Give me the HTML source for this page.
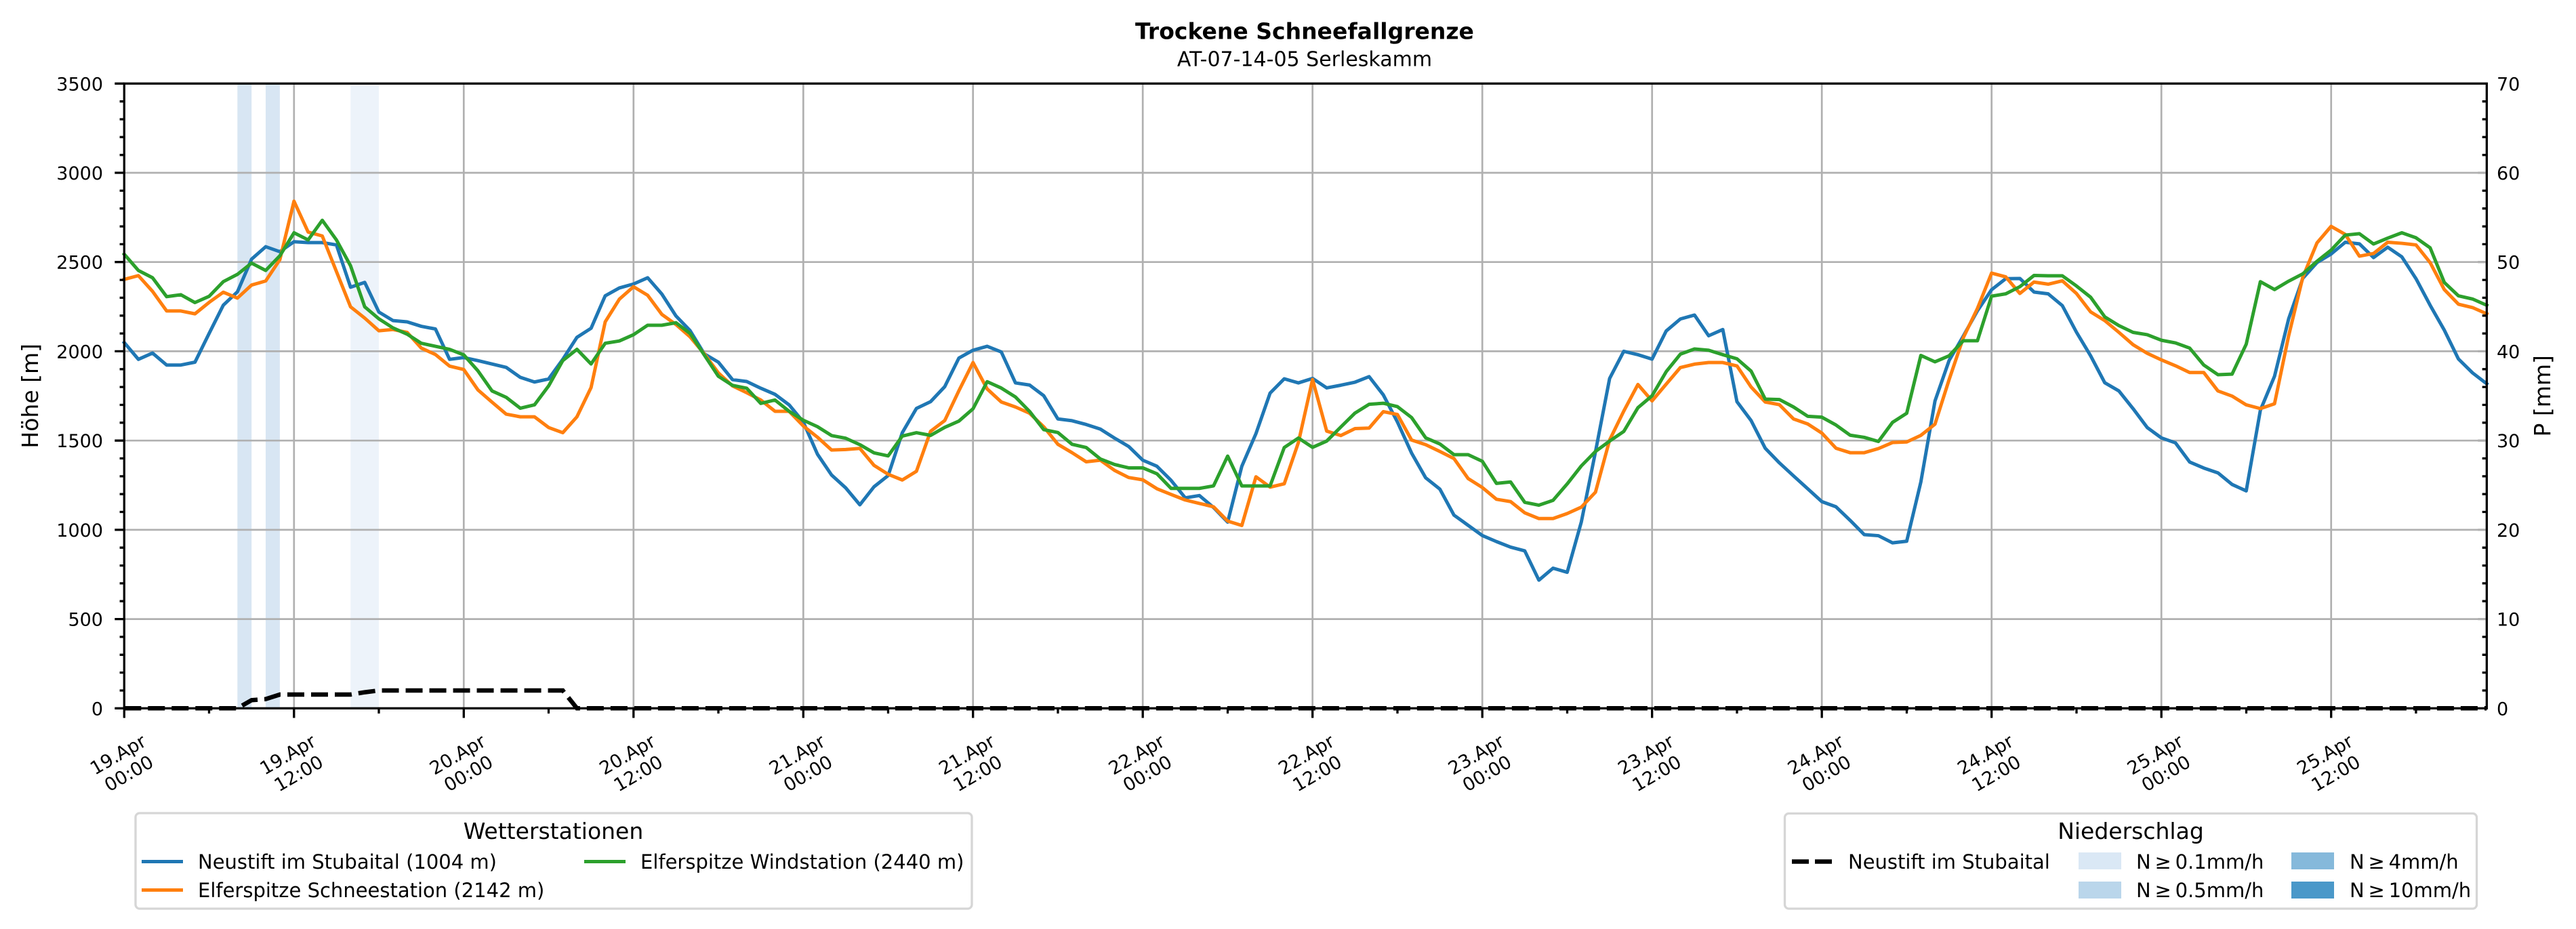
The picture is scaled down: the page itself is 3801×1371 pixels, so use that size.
<!DOCTYPE html>
<html>
<head>
<meta charset="utf-8">
<style>
html,body{margin:0;padding:0;background:#fff;}
svg{display:block;}
text{font-family:"DejaVu Sans","Liberation Sans",sans-serif;fill:#000;}
</style>
</head>
<body>
<svg width="3801" height="1371" viewBox="0 0 3801 1371" xmlns="http://www.w3.org/2000/svg">
<rect x="0" y="0" width="3801" height="1371" fill="#fff"/>

<!-- Title -->
<text x="1925" y="57.7" font-size="33" font-weight="bold" text-anchor="middle">Trockene Schneefallgrenze</text>
<text x="1925" y="97.7" font-size="30" text-anchor="middle">AT-07-14-05 Serleskamm</text>

<!-- precipitation spans -->
<rect x="350.3" y="123.3" width="20.9" height="922" fill="#d8e6f3"/>
<rect x="392.0" y="123.3" width="20.9" height="922" fill="#d8e6f3"/>
<rect x="517.3" y="123.3" width="41.7" height="922" fill="#edf3fa"/>

<!-- grid -->
<g stroke="#b0b0b0" stroke-width="2.7" fill="none">
<path d="M183.3 913.6H3669.3M183.3 781.9H3669.3M183.3 650.2H3669.3M183.3 518.4H3669.3M183.3 386.7H3669.3M183.3 255.0H3669.3"/>
<path d="M433.8 123.3V1045.3M684.3 123.3V1045.3M934.8 123.3V1045.3M1185.3 123.3V1045.3M1435.7 123.3V1045.3M1686.2 123.3V1045.3M1936.7 123.3V1045.3M2187.2 123.3V1045.3M2437.7 123.3V1045.3M2688.2 123.3V1045.3M2938.7 123.3V1045.3M3189.2 123.3V1045.3M3439.7 123.3V1045.3"/>
</g>

<!-- data lines -->
<g transform="translate(183.3,1045.3) scale(20.874,-0.26343)" fill="none" stroke-width="5" stroke-linejoin="round" stroke-linecap="square">
<polyline vector-effect="non-scaling-stroke" stroke="#1f77b4" points="0,2049 1,1955 2,1990 3,1923 4,1923 5,1939 6,2100 7,2258 8,2333 9,2516 10,2586 11,2558 12,2614 13,2609 14,2609 15,2596 16,2359 17,2386 18,2220 19,2172 20,2165 21,2140 22,2125 23,1955 24,1965 25,1948 26,1929 27,1910 28,1854 29,1828 30,1845 31,1955 32,2078 33,2129 34,2311 35,2355 36,2377 37,2412 38,2321 39,2198 40,2116 41,1986 42,1939 43,1841 44,1831 45,1793 46,1759 47,1700 48,1604 49,1424 50,1307 51,1235 52,1140 53,1241 54,1304 55,1544 56,1680 57,1718 58,1802 59,1962 60,2006 61,2028 62,1996 63,1823 64,1811 65,1751 66,1621 67,1611 68,1590 69,1564 70,1514 71,1467 72,1390 73,1356 74,1277 75,1179 76,1192 77,1125 78,1043 79,1356 80,1539 81,1766 82,1846 83,1823 84,1848 85,1795 86,1810 87,1827 88,1858 89,1756 90,1604 91,1430 92,1291 93,1228 94,1082 95,1025 96,968 97,934 98,903 99,882 100,718 101,785 102,762 103,1044 104,1437 105,1848 106,2000 107,1981 108,1956 109,2114 110,2181 111,2203 112,2087 113,2122 114,1718 115,1612 116,1457 117,1375 118,1302 119,1230 120,1158 121,1129 122,1053 123,973 124,967 125,927 126,936 127,1268 128,1722 129,1949 130,2085 131,2227 132,2345 133,2407 134,2408 135,2332 136,2322 137,2256 138,2107 139,1975 140,1824 141,1778 142,1679 143,1573 144,1515 145,1487 146,1380 147,1346 148,1319 149,1254 150,1218 151,1670 152,1860 153,2182 154,2409 155,2497 156,2545 157,2611 158,2602 159,2525 160,2583 161,2529 162,2407 163,2258 164,2119 165,1957 166,1879 167,1818"/>
<polyline vector-effect="non-scaling-stroke" stroke="#ff7f0e" points="0,2403 1,2424 2,2336 3,2226 4,2226 5,2210 6,2274 7,2331 8,2298 9,2371 10,2394 11,2513 12,2841 13,2668 14,2646 15,2447 16,2249 17,2186 18,2115 19,2122 20,2106 21,2018 22,1982 23,1917 24,1898 25,1784 26,1715 27,1648 28,1633 29,1633 30,1573 31,1544 32,1633 33,1797 34,2165 35,2292 36,2362 37,2314 38,2207 39,2150 40,2081 41,1986 42,1879 43,1806 44,1768 45,1727 46,1664 47,1664 48,1582 49,1519 50,1447 51,1450 52,1456 53,1361 54,1311 55,1279 56,1328 57,1552 58,1612 59,1779 60,1937 61,1789 62,1716 63,1688 64,1653 65,1577 66,1479 67,1432 68,1381 69,1390 70,1333 71,1293 72,1280 73,1230 74,1198 75,1167 76,1148 77,1129 78,1049 79,1024 80,1297 81,1239 82,1258 83,1489 84,1842 85,1553 86,1528 87,1567 88,1570 89,1662 90,1646 91,1503 92,1477 93,1439 94,1399 95,1287 96,1237 97,1171 98,1158 99,1095 100,1063 101,1063 102,1091 103,1127 104,1211 105,1503 106,1665 107,1814 108,1722 109,1816 110,1909 111,1928 112,1937 113,1937 114,1918 115,1800 116,1716 117,1701 118,1621 119,1593 120,1542 121,1457 122,1432 123,1432 124,1455 125,1489 126,1492 127,1529 128,1592 129,1842 130,2076 131,2240 132,2438 133,2417 134,2324 135,2388 136,2376 137,2395 138,2324 139,2221 140,2172 141,2106 142,2037 143,1989 144,1952 145,1919 146,1881 147,1881 148,1778 149,1749 150,1700 151,1679 152,1706 153,2087 154,2415 155,2607 156,2700 157,2655 158,2533 159,2548 160,2611 161,2605 162,2596 163,2497 164,2346 165,2264 166,2245 167,2210"/>
<polyline vector-effect="non-scaling-stroke" stroke="#2ca02c" points="0,2544 1,2453 2,2412 3,2306 4,2317 5,2273 6,2308 7,2390 8,2431 9,2494 10,2453 11,2535 12,2664 13,2624 14,2734 15,2624 16,2479 17,2249 18,2182 19,2131 20,2096 21,2045 22,2028 23,2011 24,1980 25,1891 26,1778 27,1742 28,1681 29,1700 30,1806 31,1948 32,2011 33,1929 34,2045 35,2058 36,2093 37,2146 38,2146 39,2160 40,2100 41,1980 42,1860 43,1809 44,1793 45,1708 46,1727 47,1664 48,1614 49,1578 50,1528 51,1513 52,1477 53,1431 54,1414 55,1525 56,1544 57,1529 58,1574 59,1609 60,1678 61,1830 62,1794 63,1744 64,1663 65,1561 66,1545 67,1479 68,1461 69,1397 70,1366 71,1347 72,1347 73,1314 74,1232 75,1232 76,1232 77,1246 78,1413 79,1246 80,1246 81,1246 82,1461 83,1514 84,1462 85,1497 86,1576 87,1654 88,1703 89,1709 90,1690 91,1629 92,1515 93,1481 94,1421 95,1421 96,1384 97,1260 98,1268 99,1154 100,1138 101,1165 102,1257 103,1358 104,1439 105,1497 106,1551 107,1684 108,1751 109,1886 110,1984 111,2013 112,2006 113,1981 114,1958 115,1889 116,1732 117,1730 118,1688 119,1636 120,1631 121,1587 122,1530 123,1518 124,1495 125,1602 126,1653 127,1977 128,1941 129,1975 130,2059 131,2059 132,2309 133,2322 134,2362 135,2425 136,2423 137,2423 138,2366 139,2303 140,2193 141,2144 142,2106 143,2093 144,2062 145,2047 146,2018 147,1923 148,1869 149,1872 150,2040 151,2390 152,2346 153,2393 154,2434 155,2504 156,2567 157,2651 158,2659 159,2601 160,2634 161,2664 162,2636 163,2580 164,2386 165,2311 166,2293 167,2258"/>
</g>

<!-- spines -->
<rect x="183.3" y="123.3" width="3486" height="922" fill="none" stroke="#000" stroke-width="3.3"/>

<!-- precipitation dashed line (right axis) -->
<polyline fill="none" stroke="#000" stroke-width="6.5" stroke-dasharray="25,10" points="183.3,1045.3 350.3,1045.3 371.2,1033.3 392.0,1031.7 412.9,1025.0 517.3,1025.0 538.2,1021.6 559.0,1019.0 830.4,1019.0 851.3,1045.3 3669.3,1045.3"/>

<!-- left ticks -->
<g stroke="#000" stroke-width="3.3" fill="none">
<path d="M169.3 1045.3H183.3M169.3 913.6H183.3M169.3 781.9H183.3M169.3 650.2H183.3M169.3 518.4H183.3M169.3 386.7H183.3M169.3 255.0H183.3M169.3 123.3H183.3"/>
<path d="M176.6 1019.0H183.3M176.6 992.6H183.3M176.6 966.3H183.3M176.6 939.9H183.3M176.6 887.2H183.3M176.6 860.9H183.3M176.6 834.6H183.3M176.6 808.2H183.3M176.6 755.5H183.3M176.6 729.2H183.3M176.6 702.9H183.3M176.6 676.5H183.3M176.6 623.8H183.3M176.6 597.5H183.3M176.6 571.1H183.3M176.6 544.8H183.3M176.6 492.1H183.3M176.6 465.8H183.3M176.6 439.4H183.3M176.6 413.1H183.3M176.6 360.4H183.3M176.6 334.1H183.3M176.6 307.7H183.3M176.6 281.4H183.3M176.6 228.7H183.3M176.6 202.3H183.3M176.6 176.0H183.3M176.6 149.7H183.3"/>
<!-- right minor ticks (inward) -->
<path d="M3662.6 1019.0H3669.3M3662.6 992.6H3669.3M3662.6 966.3H3669.3M3662.6 939.9H3669.3M3662.6 887.2H3669.3M3662.6 860.9H3669.3M3662.6 834.6H3669.3M3662.6 808.2H3669.3M3662.6 755.5H3669.3M3662.6 729.2H3669.3M3662.6 702.9H3669.3M3662.6 676.5H3669.3M3662.6 623.8H3669.3M3662.6 597.5H3669.3M3662.6 571.1H3669.3M3662.6 544.8H3669.3M3662.6 492.1H3669.3M3662.6 465.8H3669.3M3662.6 439.4H3669.3M3662.6 413.1H3669.3M3662.6 360.4H3669.3M3662.6 334.1H3669.3M3662.6 307.7H3669.3M3662.6 281.4H3669.3M3662.6 228.7H3669.3M3662.6 202.3H3669.3M3662.6 176.0H3669.3M3662.6 149.7H3669.3"/>
<!-- bottom ticks -->
<path d="M183.3 1045.3V1059.5M433.8 1045.3V1059.5M684.3 1045.3V1059.5M934.8 1045.3V1059.5M1185.3 1045.3V1059.5M1435.7 1045.3V1059.5M1686.2 1045.3V1059.5M1936.7 1045.3V1059.5M2187.2 1045.3V1059.5M2437.7 1045.3V1059.5M2688.2 1045.3V1059.5M2938.7 1045.3V1059.5M3189.2 1045.3V1059.5M3439.7 1045.3V1059.5"/>
<path d="M308.5 1045.3V1053M559.0 1045.3V1053M809.5 1045.3V1053M1060.0 1045.3V1053M1310.5 1045.3V1053M1561.0 1045.3V1053M1811.5 1045.3V1053M2062.0 1045.3V1053M2312.5 1045.3V1053M2563.0 1045.3V1053M2813.5 1045.3V1053M3064.0 1045.3V1053M3314.5 1045.3V1053M3564.9 1045.3V1053"/>
</g>
<!-- right major ticks (inward, gray) -->
<path stroke="#b0b0b0" stroke-width="3.3" fill="none" d="M3656.3 913.6H3667.6M3656.3 781.9H3667.6M3656.3 650.2H3667.6M3656.3 518.4H3667.6M3656.3 386.7H3667.6M3656.3 255.0H3667.6"/>

<!-- left tick labels -->
<g font-size="27" text-anchor="end">
<text x="152" y="1055.3">0</text>
<text x="152" y="923.6">500</text>
<text x="152" y="791.9">1000</text>
<text x="152" y="660.2">1500</text>
<text x="152" y="528.4">2000</text>
<text x="152" y="396.7">2500</text>
<text x="152" y="265.0">3000</text>
<text x="152" y="133.3">3500</text>
</g>
<!-- right tick labels -->
<g font-size="27" text-anchor="start">
<text x="3684" y="1055.3">0</text>
<text x="3684" y="923.6">10</text>
<text x="3684" y="791.9">20</text>
<text x="3684" y="660.2">30</text>
<text x="3684" y="528.4">40</text>
<text x="3684" y="396.7">50</text>
<text x="3684" y="265.0">60</text>
<text x="3684" y="133.3">70</text>
</g>

<!-- axis labels -->
<text font-size="33" text-anchor="middle" transform="translate(56,584.3) rotate(-90)">Höhe [m]</text>
<text font-size="33" text-anchor="middle" transform="translate(3763,584.3) rotate(-90)">P [mm]</text>

<!-- x tick labels -->
<g font-size="27" text-anchor="middle">
<text transform="translate(181.8,1127) rotate(-30)"><tspan x="0" y="-6">19.Apr</tspan><tspan x="0" y="26">00:00</tspan></text>
<text transform="translate(432.3,1127) rotate(-30)"><tspan x="0" y="-6">19.Apr</tspan><tspan x="0" y="26">12:00</tspan></text>
<text transform="translate(682.8,1127) rotate(-30)"><tspan x="0" y="-6">20.Apr</tspan><tspan x="0" y="26">00:00</tspan></text>
<text transform="translate(933.3,1127) rotate(-30)"><tspan x="0" y="-6">20.Apr</tspan><tspan x="0" y="26">12:00</tspan></text>
<text transform="translate(1183.8,1127) rotate(-30)"><tspan x="0" y="-6">21.Apr</tspan><tspan x="0" y="26">00:00</tspan></text>
<text transform="translate(1434.2,1127) rotate(-30)"><tspan x="0" y="-6">21.Apr</tspan><tspan x="0" y="26">12:00</tspan></text>
<text transform="translate(1684.7,1127) rotate(-30)"><tspan x="0" y="-6">22.Apr</tspan><tspan x="0" y="26">00:00</tspan></text>
<text transform="translate(1935.2,1127) rotate(-30)"><tspan x="0" y="-6">22.Apr</tspan><tspan x="0" y="26">12:00</tspan></text>
<text transform="translate(2185.7,1127) rotate(-30)"><tspan x="0" y="-6">23.Apr</tspan><tspan x="0" y="26">00:00</tspan></text>
<text transform="translate(2436.2,1127) rotate(-30)"><tspan x="0" y="-6">23.Apr</tspan><tspan x="0" y="26">12:00</tspan></text>
<text transform="translate(2686.7,1127) rotate(-30)"><tspan x="0" y="-6">24.Apr</tspan><tspan x="0" y="26">00:00</tspan></text>
<text transform="translate(2937.2,1127) rotate(-30)"><tspan x="0" y="-6">24.Apr</tspan><tspan x="0" y="26">12:00</tspan></text>
<text transform="translate(3187.7,1127) rotate(-30)"><tspan x="0" y="-6">25.Apr</tspan><tspan x="0" y="26">00:00</tspan></text>
<text transform="translate(3438.2,1127) rotate(-30)"><tspan x="0" y="-6">25.Apr</tspan><tspan x="0" y="26">12:00</tspan></text>
</g>

<!-- Legend 1 -->
<rect x="200" y="1200" width="1234" height="141" rx="6" ry="6" fill="#fff" stroke="#d6d6d6" stroke-width="3.3"/>
<text x="816.5" y="1238" font-size="33" text-anchor="middle">Wetterstationen</text>
<line x1="209" y1="1271.5" x2="270" y2="1271.5" stroke="#1f77b4" stroke-width="5"/>
<text x="292" y="1282" font-size="29">Neustift im Stubaital (1004 m)</text>
<line x1="209" y1="1313.5" x2="270" y2="1313.5" stroke="#ff7f0e" stroke-width="5"/>
<text x="292" y="1324" font-size="29">Elferspitze Schneestation (2142 m)</text>
<line x1="862" y1="1271.5" x2="923" y2="1271.5" stroke="#2ca02c" stroke-width="5"/>
<text x="945" y="1282" font-size="29">Elferspitze Windstation (2440 m)</text>

<!-- Legend 2 -->
<rect x="2633.5" y="1200.5" width="1021" height="140.5" rx="6" ry="6" fill="#fff" stroke="#d6d6d6" stroke-width="3.3"/>
<text x="3144" y="1238" font-size="33" text-anchor="middle">Niederschlag</text>
<line x1="2644" y1="1271.5" x2="2703" y2="1271.5" stroke="#000" stroke-width="6.5" stroke-dasharray="25,9"/>
<text x="2727" y="1282" font-size="29">Neustift im Stubaital</text>
<rect x="3067" y="1258" width="63" height="25" fill="#dae8f5"/>
<text x="3152" y="1282" font-size="29">N&#8201;≥&#8201;0.1mm/h</text>
<rect x="3067" y="1301" width="63" height="25" fill="#bad6eb"/>
<text x="3152" y="1324" font-size="29">N&#8201;≥&#8201;0.5mm/h</text>
<rect x="3381" y="1258" width="63" height="25" fill="#85b9db"/>
<text x="3467" y="1282" font-size="29">N&#8201;≥&#8201;4mm/h</text>
<rect x="3381" y="1301" width="63" height="25" fill="#4a98c9"/>
<text x="3467" y="1324" font-size="29">N&#8201;≥&#8201;10mm/h</text>
</svg>
</body>
</html>
